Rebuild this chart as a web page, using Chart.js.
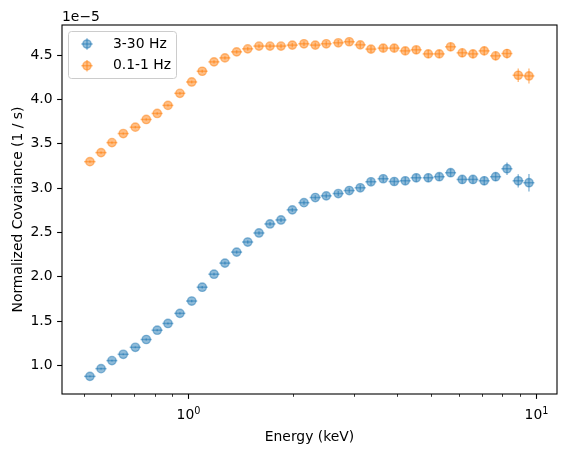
<!DOCTYPE html>
<html>
<head>
<meta charset="utf-8">
<script src="https://cdn.jsdelivr.net/npm/chart.js@4"></script>
<style>
  html, body { margin: 0; padding: 0; background: #fff; }
  #wrap { width: 567px; height: 452px; position: relative; }
</style>
</head>
<body>
<div id="wrap"><canvas id="cov"></canvas></div>
<script>
// energy bin centres (keV) and half widths
const energy = [0.521, 0.561, 0.603, 0.650, 0.704, 0.757, 0.814, 0.874, 0.946, 1.023,
                1.097, 1.186, 1.275, 1.378, 1.483, 1.598, 1.719, 1.849, 1.993, 2.153,
                2.321, 2.496, 2.703, 2.907, 3.127, 3.357, 3.641, 3.917, 4.213, 4.532,
                4.908, 5.279, 5.692, 6.146, 6.600, 7.112, 7.671, 8.270, 8.910, 9.566];
const energyErr = [0.020, 0.021, 0.022, 0.024, 0.026, 0.028, 0.030, 0.032, 0.035, 0.038,
                   0.040, 0.044, 0.047, 0.051, 0.055, 0.059, 0.064, 0.068, 0.074, 0.080,
                   0.086, 0.092, 0.100, 0.108, 0.116, 0.124, 0.135, 0.145, 0.156, 0.168,
                   0.180, 0.195, 0.210, 0.227, 0.244, 0.263, 0.284, 0.306, 0.330, 0.354];

// covariance in units of 1e-5 (1/s)
const fastCov = [0.872, 0.959, 1.050, 1.121, 1.200, 1.288, 1.393, 1.469, 1.583, 1.722,
                 1.878, 2.025, 2.150, 2.274, 2.388, 2.490, 2.592, 2.637, 2.751, 2.832,
                 2.890, 2.909, 2.935, 2.969, 3.000, 3.068, 3.102, 3.071, 3.079, 3.113,
                 3.113, 3.125, 3.170, 3.094, 3.094, 3.079, 3.125, 3.215, 3.079, 3.057];
const fastErr = [0.010, 0.010, 0.010, 0.010, 0.010, 0.012, 0.012, 0.012, 0.013, 0.014,
                 0.015, 0.016, 0.017, 0.018, 0.019, 0.020, 0.021, 0.022, 0.023, 0.024,
                 0.026, 0.028, 0.030, 0.032, 0.034, 0.036, 0.038, 0.040, 0.042, 0.044,
                 0.045, 0.045, 0.046, 0.046, 0.046, 0.048, 0.050, 0.070, 0.075, 0.100];
const slowCov = [3.295, 3.397, 3.510, 3.612, 3.684, 3.771, 3.839, 3.930, 4.066, 4.194,
                 4.315, 4.421, 4.466, 4.534, 4.568, 4.599, 4.599, 4.599, 4.610, 4.625,
                 4.610, 4.625, 4.636, 4.648, 4.613, 4.565, 4.576, 4.576, 4.545, 4.557,
                 4.511, 4.511, 4.591, 4.523, 4.511, 4.545, 4.489, 4.515, 4.270, 4.262];
const slowErr = [0.012, 0.012, 0.012, 0.012, 0.013, 0.013, 0.014, 0.014, 0.015, 0.016,
                 0.017, 0.018, 0.019, 0.020, 0.021, 0.022, 0.023, 0.024, 0.025, 0.026,
                 0.028, 0.030, 0.032, 0.034, 0.036, 0.038, 0.040, 0.042, 0.044, 0.045,
                 0.046, 0.046, 0.048, 0.048, 0.048, 0.050, 0.050, 0.052, 0.075, 0.085];

const seriesLabels = ['3-30 Hz', '0.1-1 Hz'];
const yTicks = [1.0, 1.5, 2.0, 2.5, 3.0, 3.5, 4.0, 4.5];
const xMajor = [1, 10];
const xMinor = [0.5, 0.6, 0.7, 0.8, 0.9, 2, 3, 4, 5, 6, 7, 8, 9];

const FONT = '"DejaVu Sans", sans-serif';
const blue = 'rgba(31, 119, 180, 0.5)';
const orange = 'rgba(255, 127, 14, 0.5)';

function points(ys) {
    return energy.map((e, i) => ({ x: e, y: ys[i] }));
}

// horizontal + vertical error lines, drawn under each dataset's markers
const errorBars = {
    id: 'errorBars',
    beforeDatasetDraw(chart, args) {
        const ds = chart.data.datasets[args.index];
        const xs = chart.scales.x, ys = chart.scales.y, ctx = chart.ctx;
        ctx.save();
        ctx.strokeStyle = ds.borderColor;
        ctx.lineWidth = 1.5;
        ds.data.forEach((p, i) => {
            const px = xs.getPixelForValue(p.x);
            const py = ys.getPixelForValue(p.y);
            ctx.beginPath();
            ctx.moveTo(xs.getPixelForValue(p.x - ds.xErr[i]), py);
            ctx.lineTo(xs.getPixelForValue(p.x + ds.xErr[i]), py);
            ctx.stroke();
            ctx.beginPath();
            ctx.moveTo(px, ys.getPixelForValue(p.y - ds.yErr[i]));
            ctx.lineTo(px, ys.getPixelForValue(p.y + ds.yErr[i]));
            ctx.stroke();
        });
        ctx.restore();
    }
};

// matplotlib-ish frame, ticks, labels and legend
const axesLook = {
    id: 'axesLook',
    afterDraw(chart) {
        const ctx = chart.ctx;
        const a = chart.chartArea;
        const xs = chart.scales.x, ys = chart.scales.y;
        ctx.save();
        ctx.strokeStyle = '#000';
        ctx.fillStyle = '#000';

        ctx.lineWidth = 1.1;
        ctx.strokeRect(a.left, a.top, a.right - a.left, a.bottom - a.top);

        // y ticks
        ctx.font = '13.9px ' + FONT;
        ctx.textAlign = 'right';
        ctx.textBaseline = 'middle';
        yTicks.forEach(v => {
            const py = Math.round(ys.getPixelForValue(v)) + 0.5;
            ctx.beginPath();
            ctx.moveTo(a.left, py);
            ctx.lineTo(a.left - 4.9, py);
            ctx.stroke();
            ctx.fillText(v.toFixed(1), a.left - 9.5, py);
        });

        // x ticks
        xMinor.forEach(v => {
            const px = Math.round(xs.getPixelForValue(v)) + 0.5;
            ctx.lineWidth = 0.8;
            ctx.beginPath();
            ctx.moveTo(px, a.bottom);
            ctx.lineTo(px, a.bottom + 2.8);
            ctx.stroke();
        });
        xMajor.forEach(v => {
            const px = Math.round(xs.getPixelForValue(v)) + 0.5;
            ctx.lineWidth = 1.1;
            ctx.beginPath();
            ctx.moveTo(px, a.bottom);
            ctx.lineTo(px, a.bottom + 4.9);
            ctx.stroke();
            const exp = String(Math.round(Math.log10(v)));
            ctx.font = '13.9px ' + FONT;
            const w1 = ctx.measureText('10').width;
            ctx.font = '9.7px ' + FONT;
            const w2 = ctx.measureText(exp).width;
            const x0 = px - (w1 + w2) / 2;
            ctx.textAlign = 'left';
            ctx.textBaseline = 'alphabetic';
            ctx.font = '13.9px ' + FONT;
            ctx.fillText('10', x0, a.bottom + 25);
            ctx.font = '9.7px ' + FONT;
            ctx.fillText(exp, x0 + w1, a.bottom + 19.5);
        });

        // titles
        ctx.font = '13.9px ' + FONT;
        ctx.textAlign = 'center';
        ctx.textBaseline = 'alphabetic';
        ctx.fillText('Energy (keV)', (a.left + a.right) / 2, 441);
        ctx.save();
        ctx.translate(22, (a.top + a.bottom) / 2);
        ctx.rotate(-Math.PI / 2);
        ctx.fillText('Normalized Covariance (1 / s)', 0, 0);
        ctx.restore();
        ctx.textAlign = 'left';
        ctx.fillText('1e\u22125', a.left, 21);

        // legend
        ctx.beginPath();
        ctx.roundRect(68.5, 31.5, 108, 47, 3);
        ctx.fillStyle = 'rgba(255,255,255,0.8)';
        ctx.fill();
        ctx.strokeStyle = '#cccccc';
        ctx.lineWidth = 1;
        ctx.stroke();
        chart.data.datasets.forEach((ds, i) => {
            const cy = 44 + i * 21.7, cx = 87;
            ctx.strokeStyle = ds.borderColor;
            ctx.lineWidth = 1.5;
            ctx.beginPath();
            ctx.moveTo(cx - 5.7, cy); ctx.lineTo(cx + 5.7, cy);
            ctx.stroke();
            ctx.beginPath();
            ctx.moveTo(cx, cy - 5.7); ctx.lineTo(cx, cy + 5.7);
            ctx.stroke();
            ctx.beginPath();
            ctx.arc(cx, cy, 4.17, 0, Math.PI * 2);
            ctx.fillStyle = ds.backgroundColor;
            ctx.fill();
            ctx.lineWidth = 1.39;
            ctx.stroke();
            ctx.fillStyle = '#000';
            ctx.font = '13.9px ' + FONT;
            ctx.textBaseline = 'middle';
            ctx.fillText(ds.label, 113, cy);
        });
        ctx.restore();
    }
};

new Chart(document.getElementById('cov'), {
    type: 'scatter',
    data: {
        datasets: [
            { label: seriesLabels[0], data: points(fastCov), xErr: energyErr, yErr: fastErr,
              backgroundColor: blue, borderColor: blue },
            { label: seriesLabels[1], data: points(slowCov), xErr: energyErr, yErr: slowErr,
              backgroundColor: orange, borderColor: orange }
        ]
    },
    options: {
        responsive: true,
        maintainAspectRatio: false,
        animation: false,
        layout: { padding: { left: 62, right: 10, top: 25, bottom: 58 } },
        elements: { point: { radius: 4.17, borderWidth: 1.39, hoverRadius: 4.17 } },
        scales: {
            x: { type: 'logarithmic', min: 0.433, max: 11.52, display: false },
            y: { type: 'linear', min: 0.673, max: 4.837, display: false }
        },
        plugins: {
            legend: { display: false },
            tooltip: { enabled: false }
        }
    },
    plugins: [errorBars, axesLook]
});
</script>
</body>
</html>
